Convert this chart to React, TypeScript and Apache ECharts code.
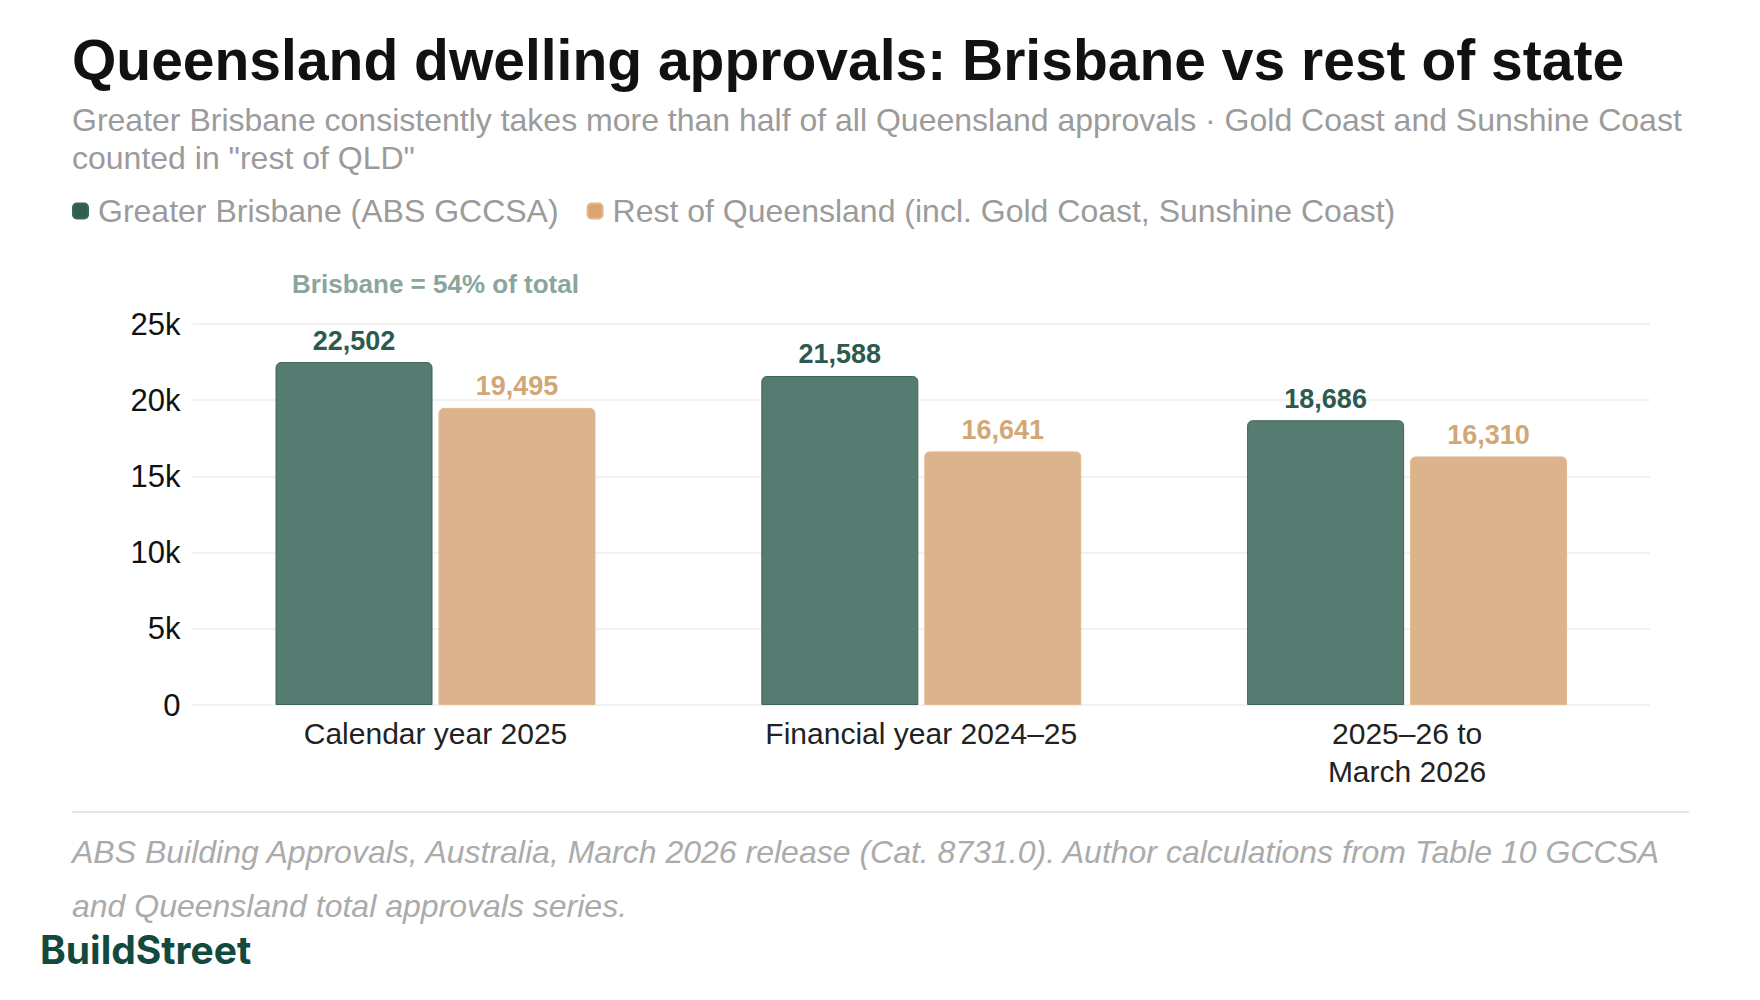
import { useEffect, useRef } from 'react';
import * as echarts from 'echarts';

// Dwelling approvals by period, Greater Brisbane vs the rest of Queensland
const categories = ['Calendar year 2025', 'Financial year 2024–25', '2025–26 to\nMarch 2026'];
const brisbane = [22502, 21588, 18686];
const restOfQld = [19495, 16641, 16310];
const seriesNames = [
  'Greater Brisbane (ABS GCCSA)',
  'Rest of Queensland (incl. Gold Coast, Sunshine Coast)',
];
const yMin = 0;
const yMax = 25000;
const yStep = 5000;

const titleText = 'Queensland dwelling approvals: Brisbane vs rest of state';
const subtitleLines = [
  'Greater Brisbane consistently takes more than half of all Queensland approvals · Gold Coast and Sunshine Coast',
  'counted in "rest of QLD"',
];
const sourceLines = [
  'ABS Building Approvals, Australia, March 2026 release (Cat. 8731.0). Author calculations from Table 10 GCCSA',
  'and Queensland total approvals series.',
];
const brandName = 'BuildStreet';

const FONT = '"Liberation Sans", Arial, Helvetica, sans-serif';
const GREEN = '#2e5e52';
const TAN = '#d9a46d';

const fmt = (v: number) => v.toLocaleString('en-US');

export default function App() {
  const ref = useRef<HTMLDivElement>(null);

  useEffect(() => {
    if (!ref.current) return;
    const chart = echarts.init(ref.current, null, { renderer: 'svg' });
    const share = Math.round((brisbane[0] / (brisbane[0] + restOfQld[0])) * 100);

    const staticGraphics: any[] = [
      {
        id: 'title',
        type: 'text',
        x: 72,
        y: 60,
        style: {
          text: titleText,
          fontFamily: FONT,
          fontSize: 57,
          fontWeight: 'bold',
          fill: '#111111',
          align: 'left',
          verticalAlign: 'middle',
        },
      },
      {
        id: 'subtitle',
        type: 'text',
        x: 72,
        y: 101,
        style: {
          text: subtitleLines.join('\n'),
          fontFamily: FONT,
          fontSize: 32,
          lineHeight: 38,
          fill: '#9b9b9b',
          align: 'left',
          verticalAlign: 'top',
        },
      },
      {
        id: 'divider',
        type: 'line',
        shape: { x1: 72, y1: 812, x2: 1689, y2: 812 },
        style: { stroke: '#dedede', lineWidth: 1.5 },
      },
      {
        id: 'source',
        type: 'text',
        x: 72,
        y: 825,
        style: {
          text: sourceLines.join('\n'),
          fontFamily: FONT,
          fontSize: 32,
          fontStyle: 'italic',
          lineHeight: 54,
          fill: '#ababab',
          align: 'left',
          verticalAlign: 'top',
        },
      },
      {
        id: 'brand',
        type: 'text',
        x: 40,
        y: 949,
        style: {
          text: brandName,
          fontFamily: 'Inter, "Liberation Sans", sans-serif',
          fontSize: 39,
          fontWeight: 'bold',
          fill: '#124a40',
          align: 'left',
          verticalAlign: 'middle',
        },
      },
    ];

    chart.setOption({
      animation: false,
      backgroundColor: '#ffffff',
      textStyle: { fontFamily: FONT },
      legend: {
        left: 72,
        top: 195,
        padding: 0,
        itemWidth: 15,
        itemHeight: 15,
        itemGap: 28,
        icon: 'roundRect',
        selectedMode: false,
        textStyle: { fontSize: 32, color: '#9b9b9b', fontFamily: FONT, padding: [0, 0, 0, 5] },
        data: [
          { name: seriesNames[0], itemStyle: { color: GREEN } },
          { name: seriesNames[1], itemStyle: { color: TAN } },
        ],
      },
      grid: { left: 192.6, right: 110, top: 324, bottom: 295, containLabel: false },
      xAxis: {
        type: 'category',
        data: categories,
        axisLine: { show: false },
        axisTick: { show: false },
        axisLabel: {
          interval: 0,
          color: '#222222',
          fontSize: 30,
          lineHeight: 38,
          margin: 9,
          fontFamily: FONT,
        },
      },
      yAxis: {
        type: 'value',
        min: yMin,
        max: yMax,
        interval: yStep,
        axisLine: { show: false },
        axisTick: { show: false },
        splitLine: { lineStyle: { color: '#eeeeee', width: 1.5 } },
        axisLabel: {
          color: '#111111',
          fontSize: 31,
          margin: 12,
          fontFamily: FONT,
          formatter: (v: number) => (v === 0 ? '0' : `${v / 1000}k`),
        },
      },
      series: [
        {
          name: seriesNames[0],
          type: 'bar',
          data: brisbane,
          barWidth: 157,
          barGap: '3.8%',
          itemStyle: {
            color: '#567c72',
            borderColor: '#3c6559',
            borderWidth: 1,
            borderRadius: [5, 5, 0, 0],
          },
          label: {
            show: true,
            position: 'top',
            distance: 8,
            fontSize: 27,
            fontWeight: 'bold',
            color: '#2d5a4f',
            fontFamily: FONT,
            formatter: (p: any) => fmt(p.value),
          },
        },
        {
          name: seriesNames[1],
          type: 'bar',
          data: restOfQld,
          barWidth: 157,
          barGap: '3.8%',
          itemStyle: {
            color: '#dbb38c',
            borderColor: '#e2b98d',
            borderWidth: 1,
            borderRadius: [5, 5, 0, 0],
          },
          label: {
            show: true,
            position: 'top',
            distance: 8,
            fontSize: 27,
            fontWeight: 'bold',
            color: '#d3a676',
            fontFamily: FONT,
            formatter: (p: any) => fmt(p.value),
          },
        },
      ],
      graphic: staticGraphics,
    });

    // Share annotation sits above the first category group
    const cx = chart.convertToPixel({ xAxisIndex: 0 }, categories[0]) as number;
    chart.setOption({
      graphic: [
        ...staticGraphics,
        {
          id: 'share',
          type: 'text',
          x: cx,
          y: 284,
          style: {
            text: `Brisbane = ${share}% of total`,
            fontFamily: FONT,
            fontSize: 26,
            fontWeight: 'bold',
            fill: '#8aa59d',
            align: 'center',
            verticalAlign: 'middle',
          },
        },
      ],
    });

    return () => chart.dispose();
  }, []);

  return (
    <div
      ref={ref}
      style={{ position: 'fixed', left: 0, top: 0, width: 1760, height: 1000, background: '#ffffff' }}
    />
  );
}
